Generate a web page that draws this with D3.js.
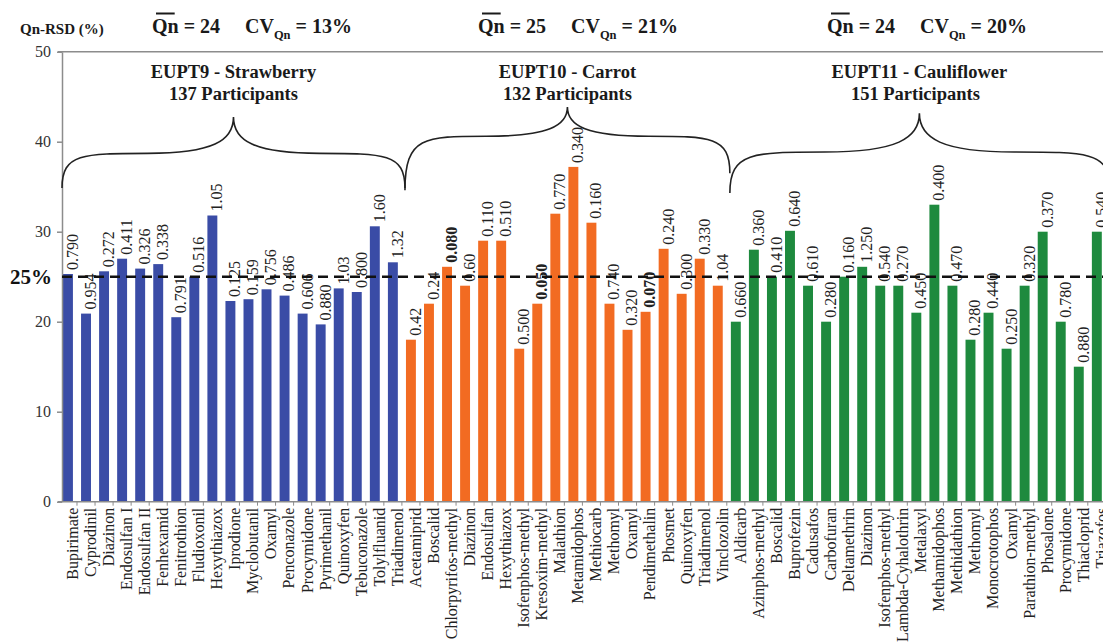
<!DOCTYPE html>
<html>
<head>
<meta charset="utf-8">
<script src="https://cdn.jsdelivr.net/npm/d3@7"></script>
<style>
  body { margin: 0; background: #fff; }
  svg { display: block; }
  text { font-family: "Liberation Serif", "Times New Roman", serif; }
</style>
</head>
<body>
<svg id="chart" width="1103" height="642"></svg>
<script>
// ---- Data: Qn-RSD (%) per pesticide, with the assigned concentration (mg/kg) above each bar ----
const strawberryPesticides = ["Bupirimate", "Cyprodinil", "Diazinon", "Endosulfan I", "Endosulfan II", "Fenhexamid",
  "Fenitrothion", "Fludioxonil", "Hexythiazox", "Iprodione", "Myclobutanil", "Oxamyl", "Penconazole", "Procymidone",
  "Pyrimethanil", "Quinoxyfen", "Tebuconazole", "Tolylfluanid", "Triadimenol"];
const strawberryQnRSD = [25.3, 20.9, 25.6, 27.0, 25.9, 26.4, 20.5, 25.0, 31.8, 22.3, 22.5, 23.6, 22.9, 20.9,
  19.7, 23.7, 23.3, 30.6, 26.6];
const strawberryConc = ["0.790", "0.954", "0.272", "0.411", "0.326", "0.338", "0.791", "0.516", "1.05", "0.125",
  "0.159", "0.756", "0.486", "0.606", "0.880", "1.03", "0.800", "1.60", "1.32"];

const carrotPesticides = ["Acetamiprid", "Boscalid", "Chlorpyrifos-methyl", "Diazinon", "Endosulfan", "Hexythiazox",
  "Isofenphos-methyl", "Kresoxim-methyl", "Malathion", "Metamidophos", "Methiocarb", "Methomyl", "Oxamyl",
  "Pendimethalin", "Phosmet", "Quinoxyfen", "Triadimenol", "Vinclozolin"];
const carrotQnRSD = [18.0, 22.0, 26.1, 24.0, 29.0, 29.0, 17.0, 22.0, 32.0, 37.2, 31.0, 22.0, 19.1, 21.1, 28.1,
  23.1, 27.0, 24.0];
const carrotConc = ["0.42", "0.24", "0.080", "0.60", "0.110", "0.510", "0.500", "0.050", "0.770", "0.340", "0.160",
  "0.740", "0.320", "0.070", "0.240", "0.300", "0.330", "1.04"];

const cauliflowerPesticides = ["Aldicarb", "Azinphos-methyl", "Boscalid", "Buprofezin", "Cadusafos", "Carbofuran",
  "Deltamethrin", "Diazinon", "Isofenphos-methyl", "Lambda-Cyhalothrin", "Metalaxyl", "Methamidophos",
  "Methidathion", "Methomyl", "Monocrotophos", "Oxamyl", "Parathion-methyl", "Phosalone", "Procymidone",
  "Thiacloprid", "Triazofos"];
const cauliflowerQnRSD = [20.0, 28.0, 25.0, 30.1, 24.0, 20.0, 25.0, 26.1, 24.0, 24.0, 21.0, 33.0, 24.0, 18.0,
  21.0, 17.0, 24.0, 30.0, 20.0, 15.0, 30.0];
const cauliflowerConc = ["0.660", "0.360", "0.410", "0.640", "0.610", "0.280", "0.160", "1.250", "0.540", "0.270",
  "0.450", "0.400", "0.470", "0.280", "0.440", "0.250", "0.320", "0.370", "0.780", "0.880", "0.540"];

const groupTitles = ["EUPT9 - Strawberry", "EUPT10 - Carrot", "EUPT11 - Cauliflower"];
const groupParticipants = ["137 Participants", "132 Participants", "151 Participants"];
const groupQnMean = ["24", "25", "24"];
const groupCV = ["13%", "21%", "20%"];

const yTicks = [0, 10, 20, 30, 40, 50];
const targetRSD = 25;

// ---- Layout & styles ----
const W = 1103, H = 642;
const groupColors = ["#3a4ca6", "#f26b22", "#1e8a3e"];
const braceLayout = [
  { yEndL: 34.85, yEndR: 34.85, yFlat: 38.7, yTip: 42.75 },
  { yEndL: 34.6,  yEndR: 36.5,  yFlat: 40.6, yTip: 43.85 },
  { yEndL: 34.3,  yEndR: 35.2,  yFlat: 38.85, yTip: 43.15 }
];
const headerX = [152, 478, 827];
const titleY = [78, 99.5];
const boldConcKeys = new Set(["1|Chlorpyrifos-methyl", "1|Kresoxim-methyl", "1|Pendimethalin"]);

const groups = [
  { names: strawberryPesticides, values: strawberryQnRSD, conc: strawberryConc },
  { names: carrotPesticides, values: carrotQnRSD, conc: carrotConc },
  { names: cauliflowerPesticides, values: cauliflowerQnRSD, conc: cauliflowerConc }
];

const rows = [];
groups.forEach((g, gi) => g.names.forEach((name, i) => rows.push({
  key: gi + "|" + name, name, value: g.values[i], conc: g.conc[i], group: gi
})));

const svg = d3.select("#chart");
svg.append("rect").attr("width", W).attr("height", H).attr("fill", "#fff");

const y = d3.scaleLinear().domain([0, 50]).range([501.7, 51.7]);
const x = d3.scaleBand()
  .domain(rows.map(d => d.key))
  .range([63, 1101.8])
  .paddingInner(0.45)
  .paddingOuter(0);
const axisX = 62;
const axisColor = "#8c8c8c";

// Frame line at 50
svg.append("line").attr("x1", axisX - 4).attr("x2", W).attr("y1", y(50)).attr("y2", y(50))
  .attr("stroke", axisColor).attr("stroke-width", 1.5);

// Bars
svg.append("g").selectAll("rect").data(rows).join("rect")
  .attr("x", d => x(d.key))
  .attr("width", x.bandwidth())
  .attr("y", d => y(d.value))
  .attr("height", d => y(0) - y(d.value))
  .attr("fill", d => groupColors[d.group]);

// Y axis
const gy = svg.append("g").attr("transform", `translate(${axisX},0)`)
  .call(d3.axisLeft(y).tickValues(yTicks).tickSize(5).tickSizeOuter(0).tickPadding(6));
gy.select(".domain").attr("stroke", axisColor).attr("stroke-width", 1.5);
gy.selectAll(".tick line").attr("stroke", axisColor).attr("stroke-width", 1.5);
gy.selectAll(".tick text").attr("font-size", 16).attr("fill", "#333")
  .style("font-family", "'Liberation Serif', serif");

// X axis with rotated category names
const gx = svg.append("g").attr("transform", `translate(0,${y(0)})`)
  .call(d3.axisBottom(x).tickSize(0).tickFormat(k => k.split("|")[1]));
gx.select(".domain").remove();
gx.selectAll(".tick text")
  .attr("transform", "rotate(-90)")
  .attr("text-anchor", "end")
  .attr("x", -6).attr("y", 0).attr("dy", "0.62em")
  .attr("font-size", 16).attr("fill", "#222")
  .style("font-family", "'Liberation Serif', serif");
svg.append("line").attr("x1", axisX - 4).attr("x2", W).attr("y1", y(0)).attr("y2", y(0))
  .attr("stroke", axisColor).attr("stroke-width", 1.5);
// small separators between categories
const gap = x.step() - x.bandwidth();
svg.append("g").selectAll("line").data(rows.slice(1)).join("line")
  .attr("x1", d => x(d.key) - gap / 2).attr("x2", d => x(d.key) - gap / 2)
  .attr("y1", y(0)).attr("y2", y(0) + 4)
  .attr("stroke", axisColor).attr("stroke-width", 1);

// Concentration labels above the bars
svg.append("g").selectAll("text").data(rows).join("text")
  .attr("transform", d => `translate(${x(d.key) + x.bandwidth() / 2},${y(d.value) - 4}) rotate(-90)`)
  .attr("dy", "0.62em")
  .attr("font-size", 16).attr("fill", "#222")
  .attr("font-weight", d => boldConcKeys.has(d.key) ? "bold" : null)
  .text(d => d.conc);

// 25 % target line
svg.append("line").attr("x1", axisX).attr("x2", W)
  .attr("y1", y(targetRSD)).attr("y2", y(targetRSD))
  .attr("stroke", "#111").attr("stroke-width", 2.6).attr("stroke-dasharray", "10,6");
svg.append("text").attr("x", 52).attr("y", y(targetRSD) + 7)
  .attr("text-anchor", "end").attr("font-size", 21).attr("font-weight", "bold").attr("fill", "#111")
  .text(targetRSD + "%");

// Curly braces spanning each proficiency test
function bracePath(xl, xr, yl, yr, yf, yt) {
  const xt = (xl + xr) / 2;
  const half = (xe, ye) => {
    const d = (xt - xe);
    const xm = xe + d * 0.5;
    return [
      `M${xe},${ye}`,
      `C${xe},${yf} ${xe + d * 0.12},${yf} ${xm},${yf}`,
      `C${xe + d * 0.88},${yf} ${xt},${yf - (yf - yt) * 0.35} ${xt},${yt}`
    ].join(" ");
  };
  return half(xl, yl) + " " + half(xr, yr);
}
groups.forEach((g, gi) => {
  const first = gi + "|" + g.names[0];
  const last = gi + "|" + g.names[g.names.length - 1];
  const xl = x(first) - 1;
  const xr = x(last) + x.step() - 1;
  const b = braceLayout[gi];
  svg.append("path")
    .attr("d", bracePath(xl, xr, y(b.yEndL), y(b.yEndR), y(b.yFlat), y(b.yTip)))
    .attr("fill", "none").attr("stroke", "#222").attr("stroke-width", 1.6);
  const cx = (xl + xr) / 2;
  svg.append("text").attr("x", cx).attr("y", titleY[0]).attr("text-anchor", "middle")
    .attr("font-size", 18.5).attr("font-weight", "bold").attr("fill", "#1a1a1a").text(groupTitles[gi]);
  svg.append("text").attr("x", cx - (gi === 2 ? 4 : 0)).attr("y", titleY[1]).attr("text-anchor", "middle")
    .attr("font-size", 18.5).attr("font-weight", "bold").attr("fill", "#1a1a1a").text(groupParticipants[gi]);
});

// Header: axis title and per-test mean Qn / CV
svg.append("text").attr("x", 20).attr("y", 34).attr("font-size", 15).attr("font-weight", "bold")
  .attr("fill", "#1a1a1a").text("Qn-RSD (%)");

groups.forEach((g, gi) => {
  const x0 = headerX[gi];
  const t = svg.append("text").attr("x", x0).attr("y", 33).attr("font-size", 20)
    .attr("font-weight", "bold").attr("fill", "#1a1a1a");
  t.append("tspan").text("Qn");
  t.append("tspan").text(" = " + groupQnMean[gi]);
  t.append("tspan").attr("x", x0 + 93).text("CV");
  t.append("tspan").attr("font-size", 12.5).attr("dy", 6).text("Qn");
  t.append("tspan").attr("dy", -6).text(" = " + groupCV[gi]);
  const qnWidth = t.node().getSubStringLength(0, 2);
  svg.append("line").attr("x1", x0 + 4).attr("x2", x0 + qnWidth - 4)
    .attr("y1", 13.5).attr("y2", 13.5).attr("stroke", "#1a1a1a").attr("stroke-width", 2);
});
</script>
</body>
</html>
